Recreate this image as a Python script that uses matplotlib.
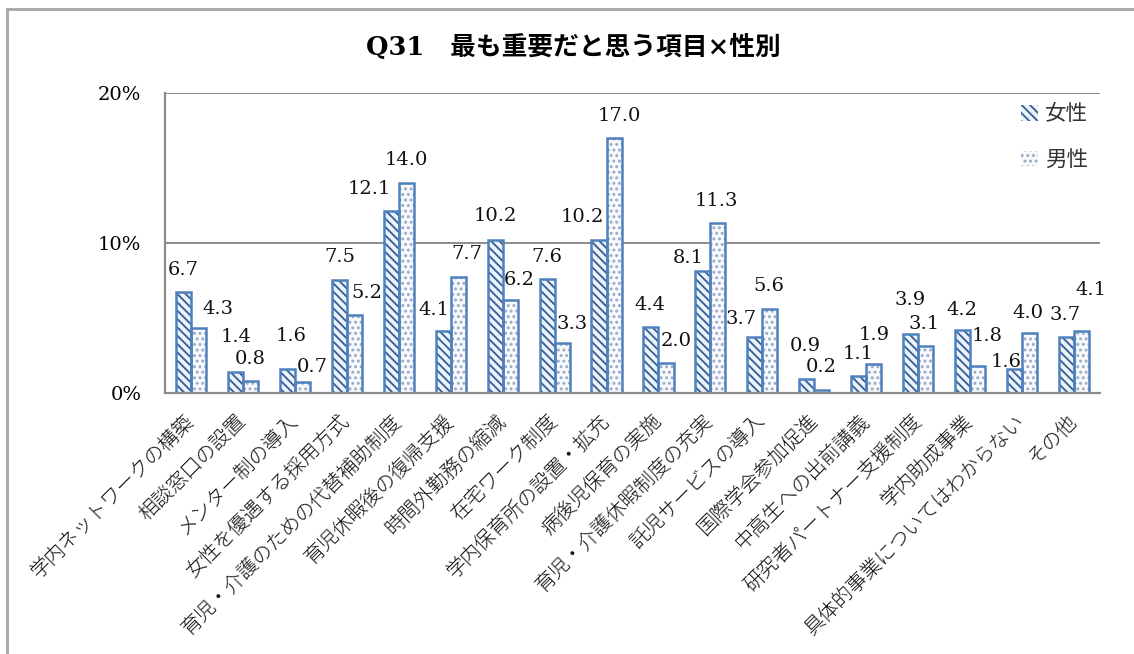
import matplotlib
matplotlib.use("Agg")
import matplotlib.pyplot as plt
import numpy as np
from matplotlib.lines import Line2D

plt.rcParams['font.family'] = ['DejaVu Serif', 'Noto Sans CJK JP']
plt.rcParams['hatch.linewidth'] = 1.35

categories = ["学内ネットワークの構築", "相談窓口の設置", "メンター制の導入", "女性を優遇する採用方式",
              "育児・介護のための代替補助制度", "育児休暇後の復帰支援", "時間外勤務の縮減", "在宅ワーク制度",
              "学内保育所の設置・拡充", "病後児保育の実施", "育児・介護休暇制度の充実", "託児サービスの導入",
              "国際学会参加促進", "中高生への出前講義", "研究者パートナー支援制度", "学内助成事業",
              "具体的事業についてはわからない", "その他"]
female = [6.7, 1.4, 1.6, 7.5, 12.1, 4.1, 10.2, 7.6, 10.2, 4.4, 8.1, 3.7, 0.9, 1.1, 3.9, 4.2, 1.6, 3.7]
male = [4.3, 0.8, 0.7, 5.2, 14.0, 7.7, 6.2, 3.3, 17.0, 2.0, 11.3, 5.6, 0.2, 1.9, 3.1, 1.8, 4.0, 4.1]
series_names = ["女性", "男性"]
yticks = [0, 10, 20]
ytick_labels = ["0%", "10%", "20%"]
title = "Q31\u3000最も重要だと思う項目×性別"

# label placement offsets (pixels) relative to bar center / bar top
dx_f = [0, 0.5, 3.5, 0.5, -22, -9, 0, 0, -16.5, -1, -15, -14, -1, -0.5, -1, -1, -8, -1.5]
dy_f = [22, 35, 33, 23, 22.5, 21.5, 24, 22, 23, 22, 13.5, 18.5, 33.5, 22.5, 34.5, 20, 7, 22.5]
dx_m = [19.5, 0, 9.5, 12.5, 0.5, 8.5, 9.5, 10, 5, 10, -1.5, -1, -1, 0, -1.5, 9.5, -1.5, 9]
dy_m = [19.5, 22, 15, 22, 23, 23.5, 20, 19.5, 22, 22, 22.5, 23, 23, 29.5, 22.5, 30, 20, 41.5]

W, H = 1134, 654
fig = plt.figure(figsize=(W / 100, H / 100), dpi=100)
ax = fig.add_axes([165 / W, 1 - 393 / H, (1100 - 165) / W, (393 - 93) / H])

x = np.arange(len(categories))
bw = 0.29
edge = '#4F81BD'
grid_c = '#8c8c8c'

bf = ax.bar(x - bw / 2, female, bw, facecolor='#eef3fa', edgecolor='#35609a',
            hatch='\\\\\\\\', linewidth=0, zorder=3, label=series_names[0])
bm = ax.bar(x + bw / 2, male, bw, facecolor='#f7f9fc', edgecolor='#98aac4',
            hatch='...', linewidth=0, zorder=3, label=series_names[1])
ax.bar(x - bw / 2, female, bw, facecolor='none', edgecolor=edge, linewidth=1.8, zorder=4)
ax.bar(x + bw / 2, male, bw, facecolor='none', edgecolor=edge, linewidth=1.8, zorder=4)

for i in range(len(categories)):
    ax.annotate(f"{female[i]:.1f}", (x[i] - bw / 2, female[i]), xytext=(dx_f[i], dy_f[i]),
                textcoords='offset pixels', ha='center', va='center', fontsize=14, color='#111111',
                family='DejaVu Serif', zorder=5)
    ax.annotate(f"{male[i]:.1f}", (x[i] + bw / 2, male[i]), xytext=(dx_m[i], dy_m[i]),
                textcoords='offset pixels', ha='center', va='center', fontsize=14, color='#111111',
                family='DejaVu Serif', zorder=5)

ax.set_xlim(-0.5, len(categories) - 0.5)
ax.set_ylim(0, 20)
ax.set_yticks(yticks)
ax.set_yticklabels(ytick_labels, fontsize=14, family='DejaVu Serif')
ax.set_xticks(x)
ax.set_xticklabels(categories, rotation=45, ha='right', va='center', rotation_mode='anchor',
                   fontsize=14.5, family='Noto Sans CJK JP', color='#111111')
ax.tick_params(axis='y', length=0, pad=17)
ax.tick_params(axis='x', length=0, pad=18)
for t in ax.get_xticklabels():
    t.set_fontweight('light')

for s in ['top', 'right']:
    ax.spines[s].set_visible(False)
for s in ['left', 'bottom']:
    ax.spines[s].set_color(grid_c)
    ax.spines[s].set_linewidth(1.6)
    ax.spines[s].set_zorder(6)
for yv in yticks[1:]:
    ax.axhline(yv, color=grid_c, linewidth=1.4, zorder=1)

leg = ax.legend(handles=[bf, bm], labels=series_names, loc='upper left',
                bbox_to_anchor=(1002 / W, 1 - 84 / H), bbox_transform=fig.transFigure,
                frameon=False, prop={'family': 'Noto Sans CJK JP', 'size': 15.5},
                handlelength=0.75, handleheight=0.75, handletextpad=0.35, labelspacing=1.1)
for t in leg.get_texts():
    t.set_color('#333333')

fig.text(573 / W, 1 - 47 / H, title, ha='center', va='center', fontsize=18.5, fontweight='bold',
         family=['DejaVu Serif', 'Noto Sans CJK JP'])

# outer chart frame
fig.add_artist(Line2D([7 / W, 7 / W], [1 - 9 / H, -0.1], transform=fig.transFigure,
                      color='#a6a6a6', linewidth=2))
fig.add_artist(Line2D([7 / W, 1.1], [1 - 9 / H, 1 - 9 / H], transform=fig.transFigure,
                      color='#a6a6a6', linewidth=2))

fig.savefig('out.png', dpi=100)
